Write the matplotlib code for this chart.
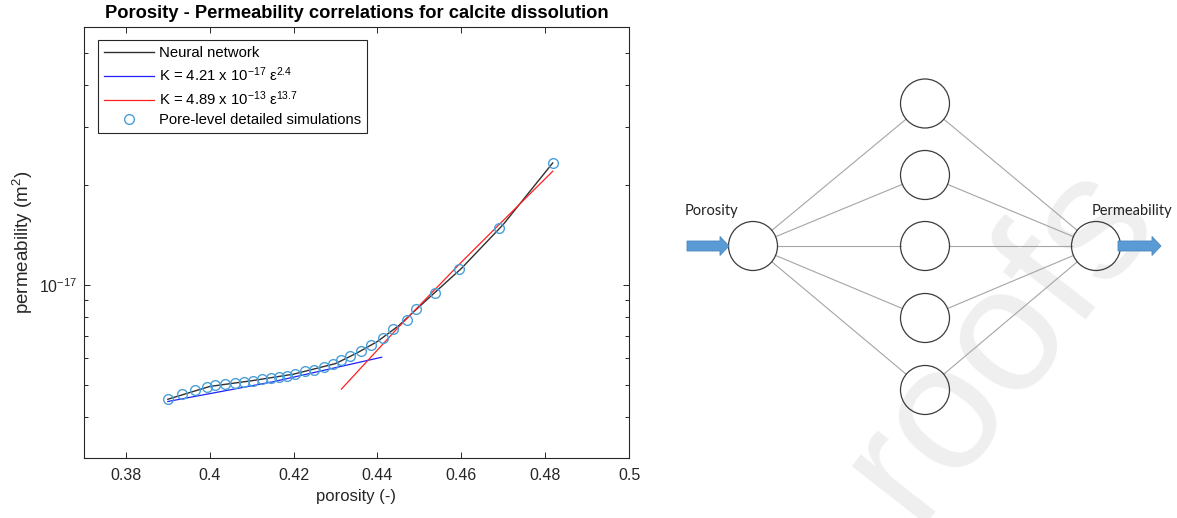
import numpy as np
import matplotlib
matplotlib.use("Agg")
import matplotlib.pyplot as plt
from matplotlib import patches, ticker

plt.rcParams['font.family'] = ['Liberation Sans', 'DejaVu Sans']
plt.rcParams['mathtext.fontset'] = 'custom'
plt.rcParams['mathtext.rm'] = 'Liberation Sans'
plt.rcParams['mathtext.it'] = 'Liberation Sans:italic'

# pore-level simulations (permeability in 1e-17 m2)
porosity = [0.3901, 0.3933, 0.3964, 0.3993, 0.4013, 0.4037, 0.4059, 0.4081,
            0.4103, 0.4125, 0.4146, 0.4164, 0.4184, 0.4204, 0.4226, 0.4248,
            0.4272, 0.4294, 0.4314, 0.4334, 0.4360, 0.4385, 0.4413, 0.4437,
            0.4471, 0.4493, 0.4537, 0.4594, 0.4690, 0.4818]
perm = [0.4535, 0.4694, 0.4826, 0.4918, 0.4986, 0.5021, 0.5056, 0.5102,
        0.5148, 0.5199, 0.5221, 0.5272, 0.5319, 0.5393, 0.5481, 0.5546,
        0.5642, 0.5769, 0.5916, 0.6082, 0.6305, 0.6573, 0.6926, 0.7345,
        0.7818, 0.8466, 0.9480, 1.1152, 1.488, 2.335]

# neural network curve
nn_porosity = [0.39, 0.40, 0.41, 0.42, 0.43, 0.435, 0.44, 0.445, 0.45, 0.46, 0.47, 0.4818]
nn_perm = [0.452, 0.494, 0.514, 0.538, 0.579, 0.622, 0.675, 0.752, 0.86, 1.12, 1.52, 2.33]

# power law fits
fit1_porosity = [0.39, 0.415, 0.441]
fit1_perm = [0.445, 0.510, 0.605]
fit2_porosity = [0.4314, 0.445, 0.46, 0.4818]
fit2_perm = [0.485, 0.745, 1.17, 2.2]

xticks = [0.38, 0.40, 0.42, 0.44, 0.46, 0.48, 0.50]
xticklabels = ['0.38', '0.4', '0.42', '0.44', '0.46', '0.48', '0.5']

W, H = 1177, 518
fig = plt.figure(figsize=(W / 100, H / 100), dpi=100)

# ---- diagram / watermark layer (pixel coords) ----
dax = fig.add_axes([0, 0, 1, 1], zorder=0)
dax.set_xlim(0, W)
dax.set_ylim(H, 0)
dax.axis('off')

dax.text(1000, 340, 'roofs', rotation=52, fontsize=128, color='#efefef',
         ha='center', va='center', zorder=0, clip_on=True)

r = 24.5
inp = (753, 246)
out = (1096, 246)
hx = 925
hy = [103.5, 175, 246, 318, 390]


def edge_line(p, q):
    p = np.array(p, float)
    q = np.array(q, float)
    d = (q - p) / np.linalg.norm(q - p)
    a = p + d * r
    b = q - d * r
    dax.plot([a[0], b[0]], [a[1], b[1]], color='#a5a5a5', lw=0.8, zorder=1)


for y in hy:
    edge_line(inp, (hx, y))
    edge_line((hx, y), out)

for c in [inp, out] + [(hx, y) for y in hy]:
    dax.add_patch(patches.Circle(c, r, fill=False, ec='#3c3c3c', lw=0.9, zorder=2))

dax.add_patch(patches.FancyArrow(687, 246, 42, 0, width=10, head_width=19, head_length=9,
                                 length_includes_head=True, fc='#5b9bd5', ec='#4a87c0',
                                 lw=0.6, zorder=3))
dax.add_patch(patches.FancyArrow(1118, 246, 43, 0, width=10, head_width=19, head_length=9,
                                 length_includes_head=True, fc='#5b9bd5', ec='#4a87c0',
                                 lw=0.6, zorder=3))
dax.text(685, 211, 'Porosity', fontsize=10.5, family='Lato', color='#222222',
         ha='left', va='center')
dax.text(1092, 211, 'Permeability', fontsize=10.5, family='Lato', color='#222222',
         ha='left', va='center')

# ---- chart ----
ax = fig.add_axes([84 / W, 1 - 458.3 / H, 545 / W, 431.6 / H], zorder=2)
ax.plot(nn_porosity, np.array(nn_perm) * 1e-17, color='#303030', lw=1.0,
        label='Neural network')
ax.plot(fit1_porosity, np.array(fit1_perm) * 1e-17, color='#2020ff', lw=0.9,
        label='K = 4.21 x 10$^{-17}$ ε$^{2.4}$')
ax.plot(fit2_porosity, np.array(fit2_perm) * 1e-17, color='#ff2020', lw=0.9,
        label='K = 4.89 x 10$^{-13}$ ε$^{13.7}$')
ax.plot(porosity, np.array(perm) * 1e-17, 'o', mfc='none', mec='#4a9fd8', ms=7, mew=1.0,
        label='Pore-level detailed simulations')

ax.set_yscale('log')
ax.set_xlim(0.37, 0.5)
ax.set_ylim(3e-18, 6e-17)
ax.set_xticks(xticks)
ax.set_xticklabels(xticklabels)
ax.yaxis.set_major_locator(ticker.FixedLocator([1e-17]))
ax.yaxis.set_major_formatter(ticker.FixedFormatter(['10$^{-17}$']))
ax.yaxis.set_minor_locator(ticker.LogLocator(subs=np.arange(2, 10)))
ax.yaxis.set_minor_formatter(ticker.NullFormatter())

for s in ax.spines.values():
    s.set_color('#262626')
    s.set_linewidth(0.8)
ax.tick_params(which='both', direction='in', top=True, right=True, color='#262626',
               labelsize=11.5, labelcolor='#262626', width=0.7)
ax.tick_params(which='major', length=4)
ax.tick_params(which='minor', length=3)
ax.tick_params(axis='x', pad=7)
ax.tick_params(axis='y', pad=5)

ax.set_xlabel('porosity (-)', fontsize=12, color='#262626', labelpad=4)
ax.set_ylabel('permeability (m$^2$)', fontsize=13.5, color='#262626', labelpad=3)
ax.set_title('Porosity - Permeability correlations for calcite dissolution',
             fontsize=13.2, fontweight='bold', pad=6)

leg = ax.legend(loc='upper left', bbox_to_anchor=(0.025, 0.969), borderaxespad=0,
                fontsize=10.7, handlelength=3.4, handletextpad=0.35, labelspacing=0.36,
                fancybox=False, edgecolor='#262626', framealpha=1, borderpad=0.4)
leg.get_frame().set_linewidth(0.8)

fig.savefig('out.png', dpi=100)
